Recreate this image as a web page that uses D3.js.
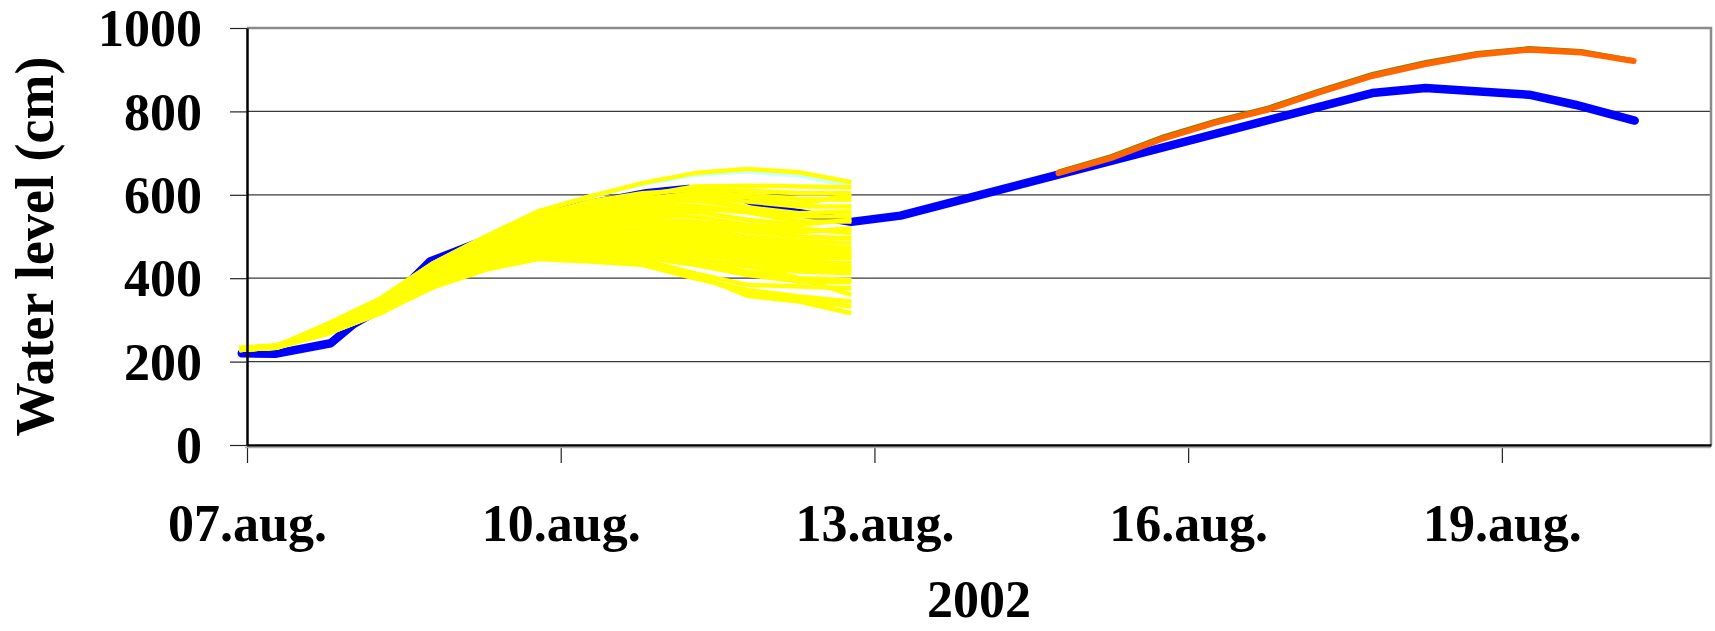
<!DOCTYPE html>
<html>
<head>
<meta charset="utf-8">
<script src="https://cdn.jsdelivr.net/npm/d3@7"></script>
<style>
body { margin: 0; background: #fff; }
.chart text { font-family: "Liberation Serif", "Times New Roman", serif; font-weight: bold; fill: #000; }
</style>
</head>
<body>
<div class="chart"></div>
<script>
// axis ticks
var yTicks = [0, 200, 400, 600, 800, 1000];
var xTickDays = [0, 3, 6, 9, 12];
var xTickLabels = ["07.aug.", "10.aug.", "13.aug.", "16.aug.", "19.aug."];

// observed water level (days after 07.aug. 00:00)
var observedDays = [-0.05, 0.28, 0.80, 1.02, 1.33, 1.75, 2.28, 2.78, 3.28, 3.82, 4.22, 4.72, 5.0, 5.78, 6.25, 10.76, 11.27, 12.26, 12.7, 13.27];
var observedLevel = [220, 219, 244, 290, 335, 440, 492, 548, 578, 604, 614, 594, 568, 535, 550, 844, 856, 840, 816, 778];

// ensemble forecasts (yellow)
var forecastDays = [-0.07, 0.28, 0.78, 1.28, 1.78, 2.28, 2.78, 3.28, 3.78, 4.28, 4.78, 5.28, 5.78];
var forecastRuns = [
  [230, 236, 292, 352, 436, 500, 560, 596, 628, 652, 662, 654, 630],
  [232, 238, 290, 350, 432, 496, 552, 580, 598, 620, 622, 620, 618],
  [229, 235, 288, 348, 428, 492, 548, 584, 604, 612, 610, 604, 604],
  [231, 237, 286, 345, 424, 488, 546, 578, 590, 604, 600, 590, 588],
  [228, 234, 284, 342, 420, 484, 540, 570, 588, 598, 594, 578, 600],
  [230, 236, 282, 340, 416, 478, 534, 564, 584, 590, 584, 572, 572],
  [233, 239, 284, 338, 412, 472, 528, 560, 580, 586, 570, 556, 560],
  [229, 235, 280, 336, 410, 468, 522, 556, 572, 574, 560, 548, 548],
  [231, 236, 278, 334, 406, 464, 520, 548, 566, 568, 558, 536, 536],
  [230, 234, 280, 332, 404, 460, 514, 540, 556, 560, 540, 528, 540],
  [228, 233, 276, 330, 400, 456, 508, 536, 550, 548, 528, 520, 508],
  [232, 237, 278, 328, 398, 452, 504, 530, 540, 536, 520, 510, 520],
  [229, 234, 274, 326, 396, 448, 498, 522, 532, 528, 512, 500, 496],
  [231, 236, 276, 330, 402, 458, 506, 528, 530, 520, 500, 490, 484],
  [230, 235, 272, 324, 394, 444, 494, 514, 520, 512, 496, 480, 472],
  [228, 233, 274, 326, 398, 450, 498, 512, 512, 504, 488, 472, 462],
  [231, 236, 272, 322, 392, 440, 488, 508, 506, 500, 480, 466, 458],
  [229, 234, 270, 320, 390, 438, 484, 500, 500, 490, 472, 456, 448],
  [232, 237, 274, 324, 396, 446, 490, 504, 496, 484, 466, 448, 450],
  [230, 235, 270, 320, 388, 434, 478, 494, 488, 476, 458, 440, 436],
  [228, 233, 272, 322, 390, 436, 476, 486, 480, 468, 450, 432, 428],
  [231, 236, 270, 318, 386, 430, 470, 478, 470, 458, 440, 424, 420],
  [229, 234, 268, 318, 384, 428, 466, 472, 462, 448, 428, 416, 412],
  [230, 235, 270, 320, 386, 432, 468, 466, 456, 440, 416, 400, 396],
  [232, 237, 268, 316, 382, 426, 460, 462, 450, 432, 408, 392, 390],
  [229, 234, 268, 318, 380, 424, 456, 456, 444, 412, 384, 380, 376],
  [231, 236, 270, 320, 382, 426, 452, 450, 432, 400, 372, 356, 344],
  [230, 235, 268, 318, 380, 422, 450, 446, 434, 404, 364, 348, 332],
  [228, 233, 268, 318, 378, 420, 446, 440, 432, 410, 358, 344, 316],
  [231, 236, 274, 326, 394, 446, 492, 510, 516, 490, 430, 400, 360]
];
var cyanRun = [230, 236, 292, 352, 436, 500, 560, 596, 626, 648, 656, 646, 622];

// forecast from 14.aug. (orange / olive)
var lateDays = [7.76, 8.26, 8.76, 9.26, 9.76, 10.26, 10.76, 11.26, 11.76, 12.26, 12.76, 13.26];
var orangeLevel = [652, 688, 735, 773, 804, 846, 885, 913, 936, 948, 941, 921];
var oliveLevel = [657, 694, 741, 779, 810, 852, 891, 919, 941, 953, 946, 924];

var margin = { top: 28, right: 4, bottom: 186, left: 247 };
var width = 1464;
var height = 417;

var svg = d3.select('.chart')
  .append('svg')
  .attr('width', width + margin.left + margin.right)
  .attr('height', height + margin.top + margin.bottom)
  .append('g')
  .attr('transform', 'translate(' + margin.left + ',' + margin.top + ')');

var x = d3.scaleLinear()
  .domain([0, 14])
  .range([0, width]);

var y = d3.scaleLinear()
  .domain([0, 1000])
  .range([height, 0]);

// gridlines
svg.selectAll('.grid')
  .data(yTicks.filter(function(d) { return d > 0 && d < 1000; }))
  .enter()
  .append('line')
  .attr('x1', 0)
  .attr('x2', width)
  .attr('y1', function(d) { return y(d); })
  .attr('y2', function(d) { return y(d); })
  .attr('stroke', '#3a3a3a')
  .attr('stroke-width', 1.2);

// plot border (top, right)
svg.append('path')
  .attr('d', 'M0,' + y(1000) + 'H' + width + 'V' + y(0))
  .attr('fill', 'none')
  .attr('stroke', '#8a8a8a')
  .attr('stroke-width', 2.5);

function series(days, vals) {
  return days.map(function(d, i) { return [d, vals[i]]; });
}

var line = d3.line()
  .x(function(d) { return x(d[0]); })
  .y(function(d) { return y(d[1]); });

// observed
svg.append('path')
  .datum(series(observedDays, observedLevel))
  .attr('fill', 'none')
  .attr('stroke', '#0000ff')
  .attr('stroke-width', 8.5)
  .attr('stroke-linejoin', 'round')
  .attr('stroke-linecap', 'round')
  .attr('d', line);

svg.append('path')
  .datum(series(forecastDays, cyanRun))
  .attr('fill', 'none')
  .attr('stroke', '#ccffff')
  .attr('stroke-width', 4.5)
  .attr('d', line);

svg.selectAll('.run')
  .data(forecastRuns)
  .enter()
  .append('path')
  .attr('class', 'run')
  .attr('fill', 'none')
  .attr('stroke', '#ffff00')
  .attr('stroke-width', 4.5)
  .attr('stroke-linejoin', 'round')
  .attr('d', function(r) { return line(series(forecastDays, r)); });

svg.append('path')
  .datum(series(lateDays, oliveLevel))
  .attr('fill', 'none')
  .attr('stroke', '#808000')
  .attr('stroke-width', 3)
  .attr('d', line);

svg.append('path')
  .datum(series(lateDays, orangeLevel))
  .attr('fill', 'none')
  .attr('stroke', '#ff6600')
  .attr('stroke-width', 6)
  .attr('stroke-linejoin', 'round')
  .attr('stroke-linecap', 'round')
  .attr('d', line);

// axes
var yAxis = svg.append('g')
  .call(d3.axisLeft(y).tickValues(yTicks).tickSize(17).tickSizeOuter(0).tickPadding(28)
    .tickFormat(d3.format('d')));
yAxis.select('.domain').attr('stroke', '#000').attr('stroke-width', 2.5);
yAxis.selectAll('.tick line').attr('stroke', '#222').attr('stroke-width', 1.2);
yAxis.selectAll('.tick text').attr('font-size', 52).attr('dy', '0.34em');

var xAxis = svg.append('g')
  .attr('transform', 'translate(0,' + height + ')')
  .call(d3.axisBottom(x).tickValues(xTickDays).tickSize(18).tickSizeOuter(0).tickPadding(41)
    .tickFormat(function(d, i) { return xTickLabels[i]; }));
xAxis.select('.domain').attr('stroke', '#000').attr('stroke-width', 2.5);
xAxis.selectAll('.tick line').attr('stroke', '#222').attr('stroke-width', 1.2);
xAxis.selectAll('.tick text').attr('font-size', 52);

svg.append('line')
  .attr('x1', -2)
  .attr('x2', width)
  .attr('y1', height + 2.5)
  .attr('y2', height + 2.5)
  .attr('stroke', '#aaa')
  .attr('stroke-width', 1.5);

svg.append('text')
  .attr('transform', 'rotate(-90)')
  .attr('x', -(height / 2 + 10))
  .attr('y', 53 - margin.left)
  .attr('text-anchor', 'middle')
  .attr('font-size', 54)
  .text('Water level (cm)');

svg.append('text')
  .attr('x', width / 2)
  .attr('y', 589)
  .attr('text-anchor', 'middle')
  .attr('font-size', 52)
  .text('2002');
</script>
</body>
</html>
